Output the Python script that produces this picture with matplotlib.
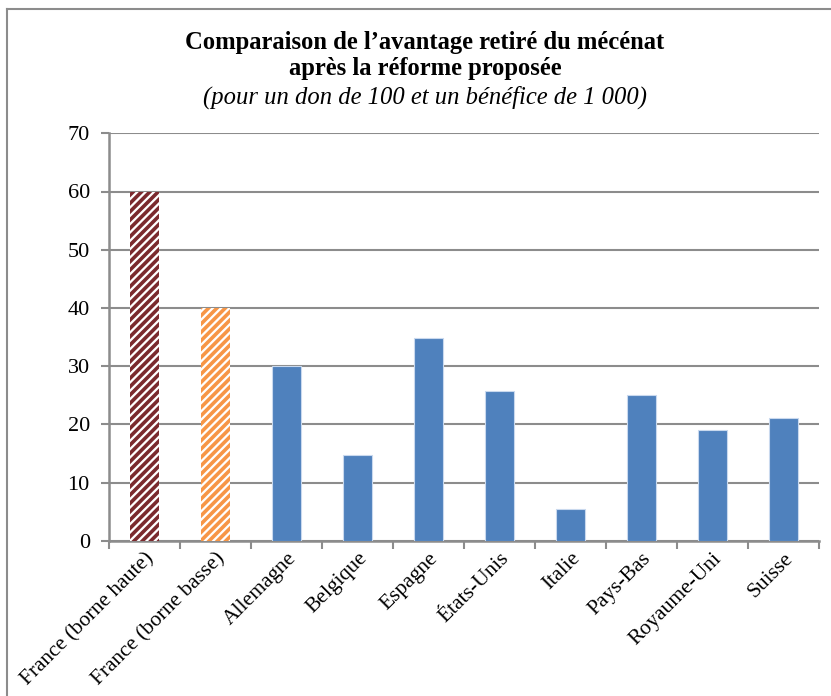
import matplotlib
matplotlib.use("Agg")
import matplotlib.pyplot as plt
from matplotlib.lines import Line2D

plt.rcParams['font.family'] = ['Liberation Serif', 'DejaVu Serif']
plt.rcParams['hatch.linewidth'] = 2.6

categories = ["France (borne haute)", "France (borne basse)", "Allemagne", "Belgique",
              "Espagne", "États-Unis", "Italie", "Pays-Bas", "Royaume-Uni", "Suisse"]
values = [60, 40, 30, 14.7, 34.9, 25.8, 5.5, 25.0, 19.0, 21.1]
y_ticks = [0, 10, 20, 30, 40, 50, 60, 70]

title_lines = ["Comparaison de l\u2019avantage retiré du mécénat", "après la réforme proposée"]
subtitle = "(pour un don de 100 et un bénéfice de 1 000)"

W, H = 831, 696
fig = plt.figure(figsize=(W / 100, H / 100), dpi=100)
ax = fig.add_axes([109.3 / W, 1 - 540.7 / H, (818.7 - 109.3) / W, (540.7 - 133.3) / H])

grid_col = "#8c8c8c"
blue = "#4f81bd"

x = list(range(len(categories)))
bars = ax.bar(x, values, width=0.41, color=blue, edgecolor="#c9d9ee", linewidth=0.8, zorder=3)

# The two French bounds are drawn with diagonal stripes
for bar, col in [(bars[0], "#7b2a2e"), (bars[1], "#f79646")]:
    bar.set_facecolor("white")
    bar.set_edgecolor(col)
    bar.set_hatch("////")
    bar.set_linewidth(0)

ax.set_xlim(-0.5, len(categories) - 0.5)
ax.set_ylim(0, 70)
ax.set_yticks(y_ticks)
ax.set_yticklabels([str(t) for t in y_ticks], fontsize=16)
ax.yaxis.grid(True, color=grid_col, linewidth=1.5, zorder=0)
ax.set_axisbelow(True)

ax.set_xticks([i + 0.5 for i in range(-1, len(categories))], minor=False)
ax.set_xticklabels([])
ax.set_xticks(x, minor=True)
ax.set_xticklabels(categories, minor=True, rotation=45, ha="right", va="top",
                   rotation_mode="anchor", fontsize=15.5)
ax.tick_params(axis="x", which="minor", length=0, pad=6)
ax.tick_params(axis="x", which="major", length=6, width=1.5, color=grid_col, direction="out")
ax.tick_params(axis="y", length=6, width=1.5, color=grid_col, direction="out", pad=8)

for side in ["top", "right"]:
    ax.spines[side].set_visible(False)
for side in ["left", "bottom"]:
    ax.spines[side].set_color(grid_col)
    ax.spines[side].set_linewidth(1.8)

tx = 425 / W
fig.text(tx, 1 - 42 / H, title_lines[0], ha="center", va="center", fontsize=17.7, fontweight="bold")
fig.text(tx, 1 - 69 / H, title_lines[1], ha="center", va="center", fontsize=17.7, fontweight="bold")
fig.text(tx, 1 - 97 / H, subtitle, ha="center", va="center", fontsize=17.7, style="italic")

# Chart frame (top and left edges fall inside the image)
fig.add_artist(Line2D([7 / W, 1.0], [1 - 8.5 / H, 1 - 8.5 / H], color="#8c8c8c", linewidth=1.5))
fig.add_artist(Line2D([7 / W, 7 / W], [0.0, 1 - 8.5 / H], color="#8c8c8c", linewidth=1.5))

fig.savefig("out.png", dpi=100)
